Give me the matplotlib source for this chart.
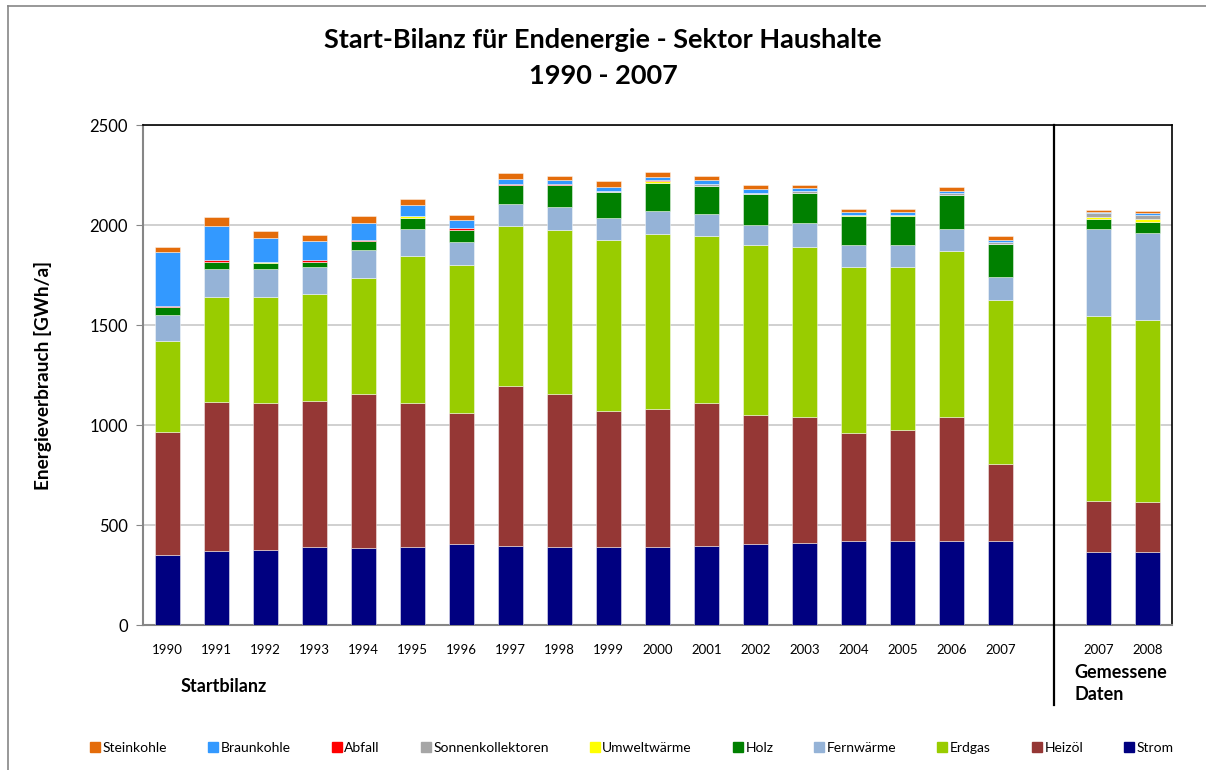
import matplotlib
matplotlib.use("Agg")
import matplotlib.pyplot as plt
import numpy as np
from matplotlib.lines import Line2D

plt.rcParams["font.family"] = ["Lato", "DejaVu Sans"]

# categories: 18 start-balance years, one empty slot, 2 measured years
years = ["1990", "1991", "1992", "1993", "1994", "1995", "1996", "1997", "1998",
         "1999", "2000", "2001", "2002", "2003", "2004", "2005", "2006", "2007",
         "", "2007", "2008"]

# GWh/a per carrier (bottom to top of stack)
strom      = [349, 371, 376, 391, 384, 391, 406, 397, 391, 389, 389, 396, 406, 411, 419, 419, 419, 419, 0, 365, 365]
heizoel    = [618, 743, 732, 728, 770, 717, 652, 799, 763, 683, 689, 712, 645, 627, 541, 555, 619, 387, 0, 255, 250]
erdgas     = [452, 528, 534, 537, 579, 735, 743, 799, 821, 852, 877, 837, 849, 852, 831, 817, 832, 821, 0, 925, 910]
fernwaerme = [132, 138, 138, 132, 140, 139, 113, 111, 116, 112, 116, 108, 102, 120, 108, 108, 112, 111, 0, 437, 437]
holz       = [37, 35, 28, 27, 49, 55, 61, 93, 108, 127, 141, 143, 152, 152, 146, 146, 166, 166, 0, 46, 53]
umwelt     = [0, 0, 5, 0, 0, 8, 0, 0, 0, 0, 7, 0, 0, 0, 6, 6, 0, 0, 0, 10, 13]
sonnenk    = [0, 0, 0, 0, 0, 0, 0, 0, 0, 6, 0, 10, 7, 8, 0, 0, 10, 13, 0, 20, 23]
abfall     = [8, 8, 0, 8, 5, 0, 9, 5, 5, 0, 8, 0, 0, 0, 0, 0, 0, 0, 0, 0, 0]
braunkohle = [268, 174, 121, 99, 85, 56, 39, 28, 22, 20, 13, 18, 17, 14, 12, 12, 11, 8, 0, 7, 9]
steinkohle = [28, 43, 36, 27, 34, 28, 28, 29, 20, 30, 27, 22, 20, 14, 17, 17, 20, 20, 0, 8, 8]

series = [
    ("Strom", strom, "#000080"),
    ("Heizöl", heizoel, "#953735"),
    ("Erdgas", erdgas, "#99CC00"),
    ("Fernwärme", fernwaerme, "#95B3D7"),
    ("Holz", holz, "#008000"),
    ("Umweltwärme", umwelt, "#FFFF00"),
    ("Sonnenkollektoren", sonnenk, "#A6A6A6"),
    ("Abfall", abfall, "#FF0000"),
    ("Braunkohle", braunkohle, "#3399FF"),
    ("Steinkohle", steinkohle, "#E46C0A"),
]

fig = plt.figure(figsize=(12.06, 7.70), dpi=100)
ax = fig.add_axes([143 / 1206, 1 - 625 / 770, (1172 - 143) / 1206, 500 / 770])

x = np.arange(len(years))
bottom = np.zeros(len(years))
handles = []
for name, vals, col in series:
    v = np.array(vals, dtype=float)
    ax.bar(x, v, 0.52, bottom=bottom, color=col, edgecolor=(1, 1, 1, 0.45),
           linewidth=0.7, zorder=3)
    bottom += v
    handles.append(Line2D([], [], marker="s", ls="", markersize=7, color=col, label=name))

ax.set_xlim(-0.5, len(years) - 0.5)
ax.set_ylim(0, 2500)
ax.set_yticks(range(0, 2501, 500))
ax.tick_params(axis="y", labelsize=12, length=5, color="#868686", pad=6)
ax.set_xticks(x)
ax.set_xticklabels(years, fontsize=9.5)
ax.tick_params(axis="x", length=0, pad=14)
ax.grid(True, axis="y", color="#C8C8C8", lw=1.2, zorder=0)
for s in ("left", "bottom"):
    ax.spines[s].set_color("#868686")
    ax.spines[s].set_linewidth(1.5)
for s in ("top", "right"):
    ax.spines[s].set_color("black")
    ax.spines[s].set_linewidth(1.2)

ax.set_ylabel("Energieverbrauch [GWh/a]", fontsize=13.7, fontweight="bold", labelpad=27)

# divider between start balance and measured data
ax.plot([18.1, 18.1], [2500, -400], color="black", lw=1.6, clip_on=False, zorder=5)
ax.text(1.14, -310, "Startbilanz", fontsize=13, fontweight="bold", ha="center", va="center")
ax.text(18.5, -235, "Gemessene", fontsize=13, fontweight="bold", ha="left", va="center")
ax.text(18.5, -350, "Daten", fontsize=13, fontweight="bold", ha="left", va="center")

fig.text(0.5, 1 - 40 / 770, "Start-Bilanz für Endenergie - Sektor Haushalte",
         fontsize=19.5, fontweight="bold", ha="center", va="center")
fig.text(0.5, 1 - 76 / 770, "1990 - 2007", fontsize=19.5, fontweight="bold",
         ha="center", va="center")

fig.legend(handles=handles[::-1], loc="center", bbox_to_anchor=(0.524, 1 - 748 / 770),
           ncol=10, frameon=False, fontsize=10, handlelength=0.7, handletextpad=0.2,
           columnspacing=2.95)

# outer chart frame (top and left edges visible)
fig.add_artist(Line2D([8 / 1206, 8 / 1206], [0, 1 - 6 / 770], color="#868686", lw=1.2))
fig.add_artist(Line2D([8 / 1206, 1], [1 - 6 / 770, 1 - 6 / 770], color="#868686", lw=1.2))

fig.savefig("out.png", dpi=100)
